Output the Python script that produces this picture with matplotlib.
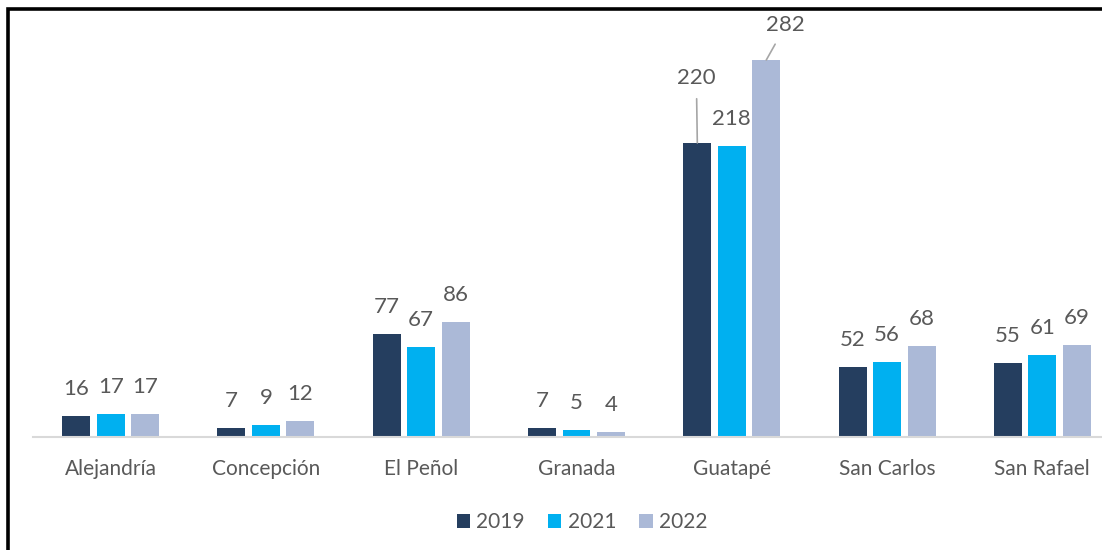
import matplotlib
matplotlib.use("Agg")
import matplotlib.pyplot as plt
from matplotlib.patches import Rectangle
import numpy as np

municipios = ["Alejandría", "Concepción", "El Peñol", "Granada",
              "Guatapé", "San Carlos", "San Rafael"]
years = ["2019", "2021", "2022"]
v2019 = [16, 7, 77, 7, 220, 52, 55]
v2021 = [17, 9, 67, 5, 218, 56, 61]
v2022 = [17, 12, 86, 4, 282, 68, 69]
series = [v2019, v2021, v2022]
colors = ["#253E5F", "#00B0F0", "#ABB9D7"]

plt.rcParams['font.family'] = ['Lato', 'DejaVu Sans']
txt = "#595959"

fig = plt.figure(figsize=(11.02, 5.5), dpi=100)
ax = fig.add_axes([33 / 1102, 113 / 550, 1087 / 1102, 401 / 550])

x = np.arange(len(municipios))
step = 0.222
width = 0.18
for i, (vals, col, yr) in enumerate(zip(series, colors, years)):
    pos = x + (i - 1) * step
    ax.bar(pos, vals, width, color=col, label=yr, zorder=2)
    for j, (px, v) in enumerate(zip(pos, vals)):
        if municipios[j] == "Guatapé" and yr == "2019":
            ax.annotate(str(v), (px, v), xytext=(-0.7, 47), textcoords="offset points",
                        ha="center", va="center", fontsize=16, color=txt,
                        arrowprops=dict(arrowstyle="-", color="#A6A6A6", lw=1.2,
                                        shrinkA=6, shrinkB=0))
        elif municipios[j] == "Guatapé" and yr == "2022":
            ax.annotate(str(v), (px, v), xytext=(14, 25), textcoords="offset points",
                        ha="center", va="center", fontsize=16, color=txt,
                        arrowprops=dict(arrowstyle="-", color="#A6A6A6", lw=1.2,
                                        shrinkA=5, shrinkB=0))
        else:
            ax.annotate(str(v), (px, v), xytext=(0, 19.5), textcoords="offset points",
                        ha="center", va="center", fontsize=16, color=txt)

ax.set_xlim(-0.5, len(municipios) - 0.5)
ax.set_ylim(0, 300)
ax.set_xticks(x)
ax.set_xticklabels(municipios, fontsize=15, color=txt)
ax.tick_params(axis="x", length=0, pad=16)
ax.set_yticks([])
for s in ["top", "right", "left"]:
    ax.spines[s].set_visible(False)
ax.spines["bottom"].set_color("#D9D9D9")
ax.spines["bottom"].set_linewidth(1.5)

fig.legend(loc="center", bbox_to_anchor=(582 / 1102, 1 - 522 / 550), ncol=3,
           frameon=False, fontsize=15, labelcolor=txt, handlelength=0.65,
           handleheight=0.65, handletextpad=0.3, columnspacing=1.1)

# black frame around the chart (cut at the right and bottom)
fig.patches.append(Rectangle((8 / 1102, -0.05), 1.1, 1 - 9 / 550 + 0.05,
                             transform=fig.transFigure, fill=False,
                             edgecolor="black", linewidth=2.6, clip_on=False))

fig.savefig("out.png", dpi=100, facecolor="white")
